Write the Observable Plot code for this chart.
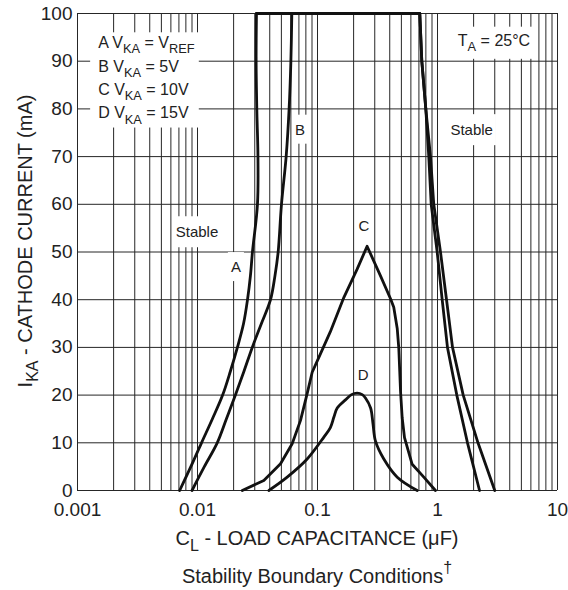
<!DOCTYPE html>
<html><head><meta charset="utf-8">
<script src="https://cdn.jsdelivr.net/npm/d3@7"></script>
<script src="https://cdn.jsdelivr.net/npm/@observablehq/plot@0.6"></script>
<style>
html,body{margin:0;padding:0;background:#fff;}
text{white-space:pre;}
</style></head><body><div id="chart"></div>
<script>
// ---- axes ----
const xTicks = [0.001, 0.01, 0.1, 1, 10];
const xTickLabels = ["0.001", "0.01", "0.1", "1", "10"];
const yTicks = [0, 10, 20, 30, 40, 50, 60, 70, 80, 90, 100];

// ---- curve A (V_KA = V_REF) ----
const aX = [0.0071, 0.0088, 0.0108, 0.0133, 0.0162, 0.0188, 0.0215, 0.0242, 0.0261, 0.0276, 0.0287, 0.0316, 0.0319, 0.0312, 0.0308, 0.031,
            0.712, 0.740, 0.799, 0.874, 0.931, 1.059, 1.189, 1.334, 1.638, 2.175, 3.0];
const aY = [0, 5, 10, 15, 20, 25, 30, 35, 40, 45, 50, 60, 70, 80, 90, 100,
            100, 90, 80, 70, 60, 50, 40, 30, 20, 10, 0];
// ---- curve B (V_KA = 5V) ----
const bX = [0.0090, 0.0114, 0.0146, 0.0174, 0.0207, 0.0244, 0.0286, 0.0341, 0.0406, 0.0442, 0.047, 0.0501, 0.0548, 0.058, 0.060, 0.0611,
            0.712, 0.740, 0.799, 0.846, 0.886, 0.994, 1.094, 1.211, 1.448, 1.778, 2.24];
const bY = [0, 5, 10, 15, 20, 25, 30, 35, 40, 45, 50, 60, 70, 80, 90, 100,
            100, 90, 80, 70, 60, 50, 40, 30, 20, 10, 0];
// ---- curve C (V_KA = 10V) ----
const cX = [0.0236, 0.0357, 0.0492, 0.0615, 0.0722, 0.082, 0.0903, 0.106, 0.128, 0.166, 0.214, 0.259,
            0.335, 0.406, 0.432, 0.462, 0.476, 0.492, 0.508, 0.531, 0.615, 0.769, 0.962];
const cY = [0, 2.1, 5.6, 9.8, 14.7, 20.3, 24.8, 28.7, 33.3, 40.5, 46.4, 51.2,
            45, 40.2, 38.4, 33.9, 29.8, 20.8, 15.2, 11.1, 5.5, 2.8, 0];
// ---- curve D (V_KA = 15V) ----
const dX = [0.0393, 0.0559, 0.082, 0.113, 0.128, 0.137, 0.146, 0.171, 0.192, 0.214, 0.236, 0.251, 0.277, 0.29, 0.304, 0.357, 0.462, 0.678];
const dY = [0, 2.8, 6.6, 11.2, 13.2, 15.4, 17.3, 19, 20.1, 20.4, 20.1, 19.4, 17.3, 14, 10.4, 6.6, 2.8, 0];

// ---- annotations ----
const curveNames = ["A", "B", "C", "D"];
const curveLabelX = [0.0211, 0.0722, 0.246, 0.243];
const curveLabelY = [46.8, 75.6, 55.4, 24.1];
const stableX = [0.01, 1.945];
const stableY = [54.1, 75.5];
const legendX = 0.0015;
const legendY = [92.6, 87.7, 82.8, 77.9];
const legendParts = [
  [{t: "A V"}, {t: "KA", sub: true}, {t: " = V"}, {t: "REF", sub: true}],
  [{t: "B V"}, {t: "KA", sub: true}, {t: " = 5V"}],
  [{t: "C V"}, {t: "KA", sub: true}, {t: " = 10V"}],
  [{t: "D V"}, {t: "KA", sub: true}, {t: " = 15V"}]
];
const tempX = 2.985, tempY = 94.3;
const tempParts = [{t: "T"}, {t: "A", sub: true}, {t: " = 25°C"}];
const xLabelParts = [{t: "C"}, {t: "L", sub: true}, {t: " - LOAD CAPACITANCE (μF)"}];
const yLabelParts = [{t: "I"}, {t: "KA", sub: true}, {t: " - CATHODE CURRENT (mA)"}];
const captionParts = [{t: "Stability Boundary Conditions"}, {t: "†", sup: true}];

// smooth rising flanks (A, B up to 100 mA, all of D) vs. polyline parts
const toRows = (name, xs, ys, from, to) => xs.slice(from, to).map((x, i) => ({curve: name, x, y: ys[from + i]}));
const smoothData = [
  ...toRows("A-rise", aX, aY, 0, 16),
  ...toRows("B-rise", bX, bY, 0, 16),
  ...toRows("D", dX, dY, 0, dX.length)
];
const polyData = [
  ...toRows("A-top", aX, aY, 15, aX.length),
  ...toRows("B-top", bX, bY, 15, bX.length),
  ...toRows("C", cX, cY, 0, cX.length)
];
const xGrid = xTicks.slice(0, -1).flatMap(d => [1,2,3,4,5,6,7,8,9].map(k => d * k)).concat([xTicks[xTicks.length - 1]]);

const FONT = "'Liberation Sans', Arial, Helvetica, sans-serif";
const plot = Plot.plot({
  width: 568, height: 590,
  marginTop: 13, marginRight: 11, marginBottom: 100, marginLeft: 77,
  style: {fontFamily: FONT, fontSize: "19px", color: "#222", background: "#fff"},
  x: {type: "log", domain: [0.001, 10], ticks: xTicks,
      tickFormat: d => xTickLabels[xTicks.findIndex(t => Math.abs(t - d) / t < 1e-9)],
      tickSize: 0, tickPadding: 12, label: null},
  y: {domain: [0, 100], ticks: yTicks, tickSize: 0, tickPadding: 5, label: null},
  marks: [
    Plot.ruleX(xGrid, {stroke: "#262626", strokeWidth: 1}),
    Plot.ruleY(yTicks, {stroke: "#262626", strokeWidth: 1}),
    Plot.line(smoothData, {x: "x", y: "y", z: "curve", curve: "catmull-rom", stroke: "#111", strokeWidth: 2.8, strokeLinejoin: "round", strokeLinecap: "round"}),
    Plot.line(polyData, {x: "x", y: "y", z: "curve", stroke: "#111", strokeWidth: 2.8, strokeLinejoin: "round", strokeLinecap: "round"})
  ]
});
document.getElementById("chart").append(plot);

const sx = plot.scale("x"), sy = plot.scale("y");
const X = sx.apply ? v => sx.apply(v) : d3.scaleLog(sx.domain, sx.range);
const Y = sy.apply ? v => sy.apply(v) : d3.scaleLinear(sy.domain, sy.range);
const svg = d3.select(plot);

function richText(g, x, y, parts, size, anchor) {
  const t = g.append("text").attr("x", x).attr("y", y).attr("font-size", size)
    .attr("text-anchor", anchor).attr("fill", "#222").attr("font-family", FONT);
  let shift = 0;
  parts.forEach(p => {
    const ts = t.append("tspan").text(p.t);
    const target = p.sub ? size * 0.32 : p.sup ? -size * 0.5 : 0;
    if (target !== shift) ts.attr("dy", target - shift);
    shift = target;
    if (p.sub || p.sup) ts.attr("font-size", size * 0.8);
  });
  return t;
}
function boxBehind(g, node, px, py) {
  const b = node.getBBox();
  g.insert("rect", () => node).attr("x", b.x - px).attr("y", b.y - py)
    .attr("width", b.width + 2 * px).attr("height", b.height + 2 * py).attr("fill", "#fff");
}

const ann = svg.insert("g", 'g[aria-label="line"]');
// legend block with one white box
const leg = ann.append("g");
legendParts.forEach((parts, i) => richText(leg, X(legendX), Y(legendY[i]), parts, 16, "start"));
{
  const b = leg.node().getBBox();
  leg.insert("rect", ":first-child").attr("x", b.x - 8).attr("y", b.y - 2)
    .attr("width", b.width + 12).attr("height", b.height + 3).attr("fill", "#fff");
}
// temperature
const tg = ann.append("g");
const tt = richText(tg, X(tempX), Y(tempY) + 5.5, tempParts, 16, "middle");
boxBehind(tg, tt.node(), 4, 5);
// stable labels
stableX.forEach((sxv, i) => {
  const g = ann.append("g");
  const t = richText(g, X(sxv), Y(stableY[i]) + 5.3, [{t: "Stable"}], 15, "middle");
  boxBehind(g, t.node(), 3, 7);
});
// curve labels
curveNames.forEach((n, i) => {
  const g = ann.append("g");
  const t = richText(g, X(curveLabelX[i]), Y(curveLabelY[i]) + 5.3, [{t: n}], 15, "middle");
  boxBehind(g, t.node(), 3, 6);
});
// axis labels and caption
const midX = (X(0.001) + X(10)) / 2;
richText(svg, midX, 545, xLabelParts, 20, "middle");
richText(svg, midX, 583, captionParts, 20, "middle");
const yl = svg.append("g").attr("transform", `translate(32, 241) rotate(-90)`);
richText(yl, 0, 0, yLabelParts, 20, "middle");
</script></body></html>
